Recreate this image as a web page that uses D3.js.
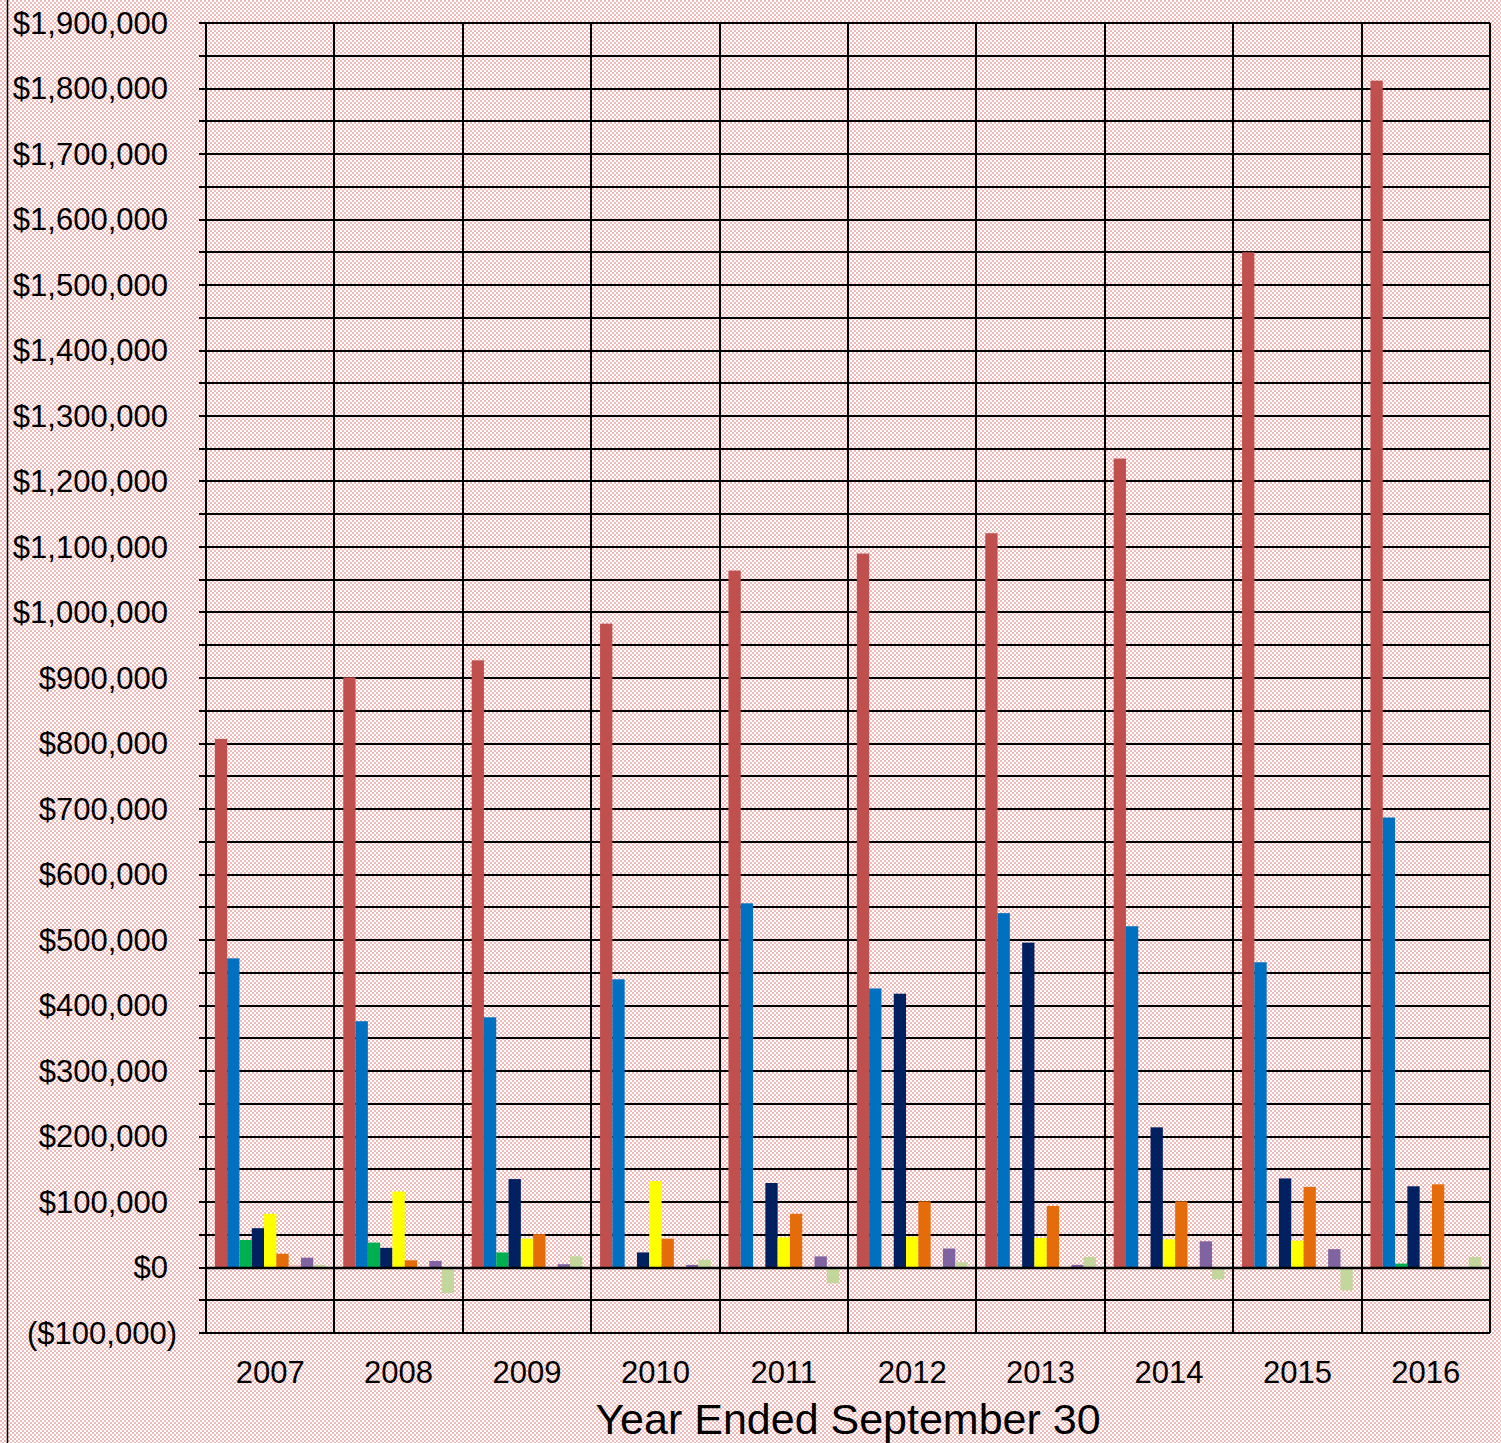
<!DOCTYPE html>
<html>
<head>
<meta charset="utf-8">
<script src="https://cdn.jsdelivr.net/npm/d3@7"></script>
<style>
    body { margin: 0; background: #fff; }
    svg { display: block; }
    text { font-family: "Liberation Sans", Arial, sans-serif; fill: #000; }
</style>
</head>
<body>
<svg id="svg" width="1501" height="1443"></svg>
<script>
// categories
let years = ["2007", "2008", "2009", "2010", "2011", "2012", "2013", "2014", "2015", "2016"];

// series values
let series1 = [807000, 901000, 927000, 983000, 1064000, 1090000, 1121000, 1235000, 1550000, 1812000];
let series2 = [472000, 376000, 382000, 440000, 556000, 426000, 541000, 521000, 466000, 687000];
let series3 = [42000, 38000, 23000, 1000, 0, 1000, 1000, 0, 1000, 6000];
let series4 = [60000, 30000, 135000, 23000, 129000, 418000, 496000, 214000, 136000, 124000];
let series5 = [82000, 116000, 44000, 132000, 46000, 47000, 45000, 43000, 41000, 0];
let series6 = [21000, 11000, 51000, 44000, 82000, 101000, 94000, 101000, 123000, 127000];
let series7 = [4000, 0, 0, 0, 0, 0, 0, 0, 0, 0];
let series8 = [15000, 10000, 5000, 4000, 17000, 29000, 4000, 40000, 28000, 0];
let series9 = [4000, -39000, 17000, 12000, -24000, 8000, 16000, -18000, -35000, 16000];

let seriesNames = ["s1", "s2", "s3", "s4", "s5", "s6", "s7", "s8", "s9"];
let seriesValues = [series1, series2, series3, series4, series5, series6, series7, series8, series9];
let seriesColors = ["#c0504d", "#0070c0", "#00b050", "#002060", "#ffff00", "#e46c0a", "#f2c4c4", "#8064a2", "#c3d69b"];

let yTicks = d3.range(-100000, 1900001, 50000);
let yLabels = d3.range(-100000, 1900001, 100000);
let xTitle = "Year Ended September 30";

let svg = d3.select("#svg");
let plotLeft = 206, plotRight = 1490, plotTop = 23, plotBottom = 1333;

// checkered pink background
let defs = svg.append("defs");
let pat = defs.append("pattern")
    .attr("id", "checks")
    .attr("width", 4)
    .attr("height", 4)
    .attr("patternUnits", "userSpaceOnUse");
pat.append("rect").attr("width", 4).attr("height", 4).attr("fill", "#ffffff");
pat.append("rect").attr("width", 2).attr("height", 2).attr("fill", "#efbaba");
pat.append("rect").attr("x", 2).attr("y", 2).attr("width", 2).attr("height", 2).attr("fill", "#efbaba");

svg.append("rect")
    .attr("width", 1501)
    .attr("height", 1443)
    .attr("fill", "url(#checks)");

// outer chart border
svg.append("line")
    .attr("x1", 7.5).attr("x2", 7.5)
    .attr("y1", 0).attr("y2", 1443)
    .attr("stroke", "#000")
    .attr("stroke-width", 1.5);

let yScale = d3.scaleLinear()
    .domain([-100000, 1900000])
    .range([plotBottom, plotTop]);

let xScale = d3.scaleBand()
    .domain(years)
    .range([plotLeft, plotRight])
    .padding(0);

let xInner = d3.scaleBand()
    .domain(seriesNames)
    .range([0, xScale.bandwidth()])
    .paddingInner(0)
    .paddingOuter(0.72);

// horizontal grid lines
svg.append("g")
    .attr("class", "y-grid")
    .selectAll("line")
    .data(yTicks)
    .join("line")
    .attr("x1", plotLeft - 7)
    .attr("x2", plotRight)
    .attr("y1", d => Math.round(yScale(d)))
    .attr("y2", d => Math.round(yScale(d)))
    .attr("stroke", "#000")
    .attr("stroke-width", 2);

// vertical grid lines on category boundaries
let bounds = years.map(y => xScale(y)).concat([plotRight]);
svg.append("g")
    .attr("class", "x-grid")
    .selectAll("line")
    .data(bounds)
    .join("line")
    .attr("x1", d => Math.round(d))
    .attr("x2", d => Math.round(d))
    .attr("y1", plotTop)
    .attr("y2", plotBottom)
    .attr("stroke", "#000")
    .attr("stroke-width", 2);

// bars
let rows = [];
years.forEach((yr, i) => {
    seriesNames.forEach((s, j) => {
        rows.push({ year: yr, series: s, value: seriesValues[j][i], color: seriesColors[j] });
    });
});

svg.append("g")
    .attr("class", "bars")
    .selectAll("rect")
    .data(rows.filter(d => d.value !== 0))
    .join("rect")
    .attr("x", d => xScale(d.year) + xInner(d.series))
    .attr("width", xInner.bandwidth())
    .attr("y", d => yScale(Math.max(0, d.value)))
    .attr("height", d => Math.abs(yScale(d.value) - yScale(0)))
    .attr("fill", d => d.color);

// zero axis line
svg.append("line")
    .attr("x1", plotLeft)
    .attr("x2", plotRight)
    .attr("y1", Math.round(yScale(0)))
    .attr("y2", Math.round(yScale(0)))
    .attr("stroke", "#000")
    .attr("stroke-width", 2.5);

// y axis labels
let money = d3.format(",");
svg.append("g")
    .attr("class", "y-labels")
    .selectAll("text")
    .data(yLabels)
    .join("text")
    .attr("x", 168)
    .attr("dx", d => d < 0 ? 9 : 0)
    .attr("y", d => yScale(d))
    .attr("dy", "0.35em")
    .attr("text-anchor", "end")
    .style("font-size", "31px")
    .text(d => d < 0 ? "($" + money(-d) + ")" : "$" + money(d));

// x axis labels
svg.append("g")
    .attr("class", "x-labels")
    .selectAll("text")
    .data(years)
    .join("text")
    .attr("x", d => xScale(d) + xScale.bandwidth() / 2)
    .attr("y", 1383)
    .attr("text-anchor", "middle")
    .style("font-size", "31px")
    .text(d => d);

svg.append("text")
    .attr("x", 848)
    .attr("y", 1434)
    .attr("text-anchor", "middle")
    .style("font-size", "43px")
    .text(xTitle);
</script>
</body>
</html>
